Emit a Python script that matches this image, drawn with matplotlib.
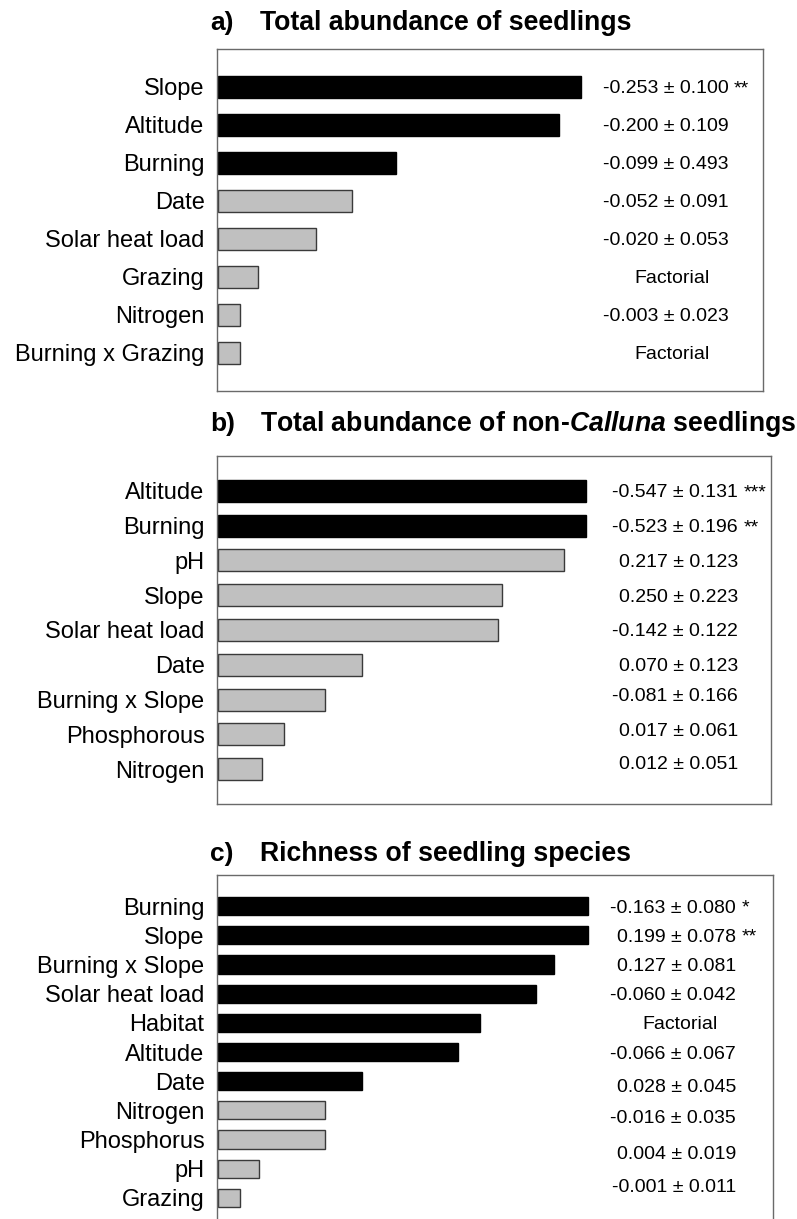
import matplotlib
matplotlib.use("Agg")
import matplotlib.pyplot as plt

plt.rcParams['font.family'] = ['Liberation Sans', 'DejaVu Sans']
plt.rcParams['mathtext.fontset'] = 'custom'
plt.rcParams['mathtext.rm'] = 'Liberation Sans:bold'
plt.rcParams['mathtext.it'] = 'Liberation Sans:italic:bold'
plt.rcParams['mathtext.bf'] = 'Liberation Sans:bold'

# ---------------- data ----------------
a_labels = ["Slope", "Altitude", "Burning", "Date", "Solar heat load", "Grazing",
            "Nitrogen", "Burning x Grazing"]
a_importance = [1.00, 0.94, 0.49, 0.37, 0.27, 0.11, 0.06, 0.06]
a_estimates = ["-0.253 ± 0.100", "-0.200 ± 0.109", "-0.099 ± 0.493", "-0.052 ± 0.091",
               "-0.020 ± 0.053", "Factorial", "-0.003 ± 0.023", "Factorial"]
a_stars = ["**", "", "", "", "", "", "", ""]
a_important = [True, True, True, False, False, False, False, False]

b_labels = ["Altitude", "Burning", "pH", "Slope", "Solar heat load", "Date",
            "Burning x Slope", "Phosphorous", "Nitrogen"]
b_importance = [1.00, 1.00, 0.94, 0.77, 0.76, 0.39, 0.29, 0.18, 0.12]
b_estimates = ["-0.547 ± 0.131", "-0.523 ± 0.196", "0.217 ± 0.123", "0.250 ± 0.223",
               "-0.142 ± 0.122", "0.070 ± 0.123", "-0.081 ± 0.166", "0.017 ± 0.061",
               "0.012 ± 0.051"]
b_stars = ["***", "**", "", "", "", "", "", "", ""]
b_important = [True, True, False, False, False, False, False, False, False]

c_labels = ["Burning", "Slope", "Burning x Slope", "Solar heat load", "Habitat",
            "Altitude", "Date", "Nitrogen", "Phosphorus", "pH", "Grazing"]
c_importance = [1.00, 1.00, 0.91, 0.86, 0.71, 0.65, 0.39, 0.29, 0.29, 0.11, 0.06]
c_estimates = ["-0.163 ± 0.080", "0.199 ± 0.078", "0.127 ± 0.081", "-0.060 ± 0.042",
               "Factorial", "-0.066 ± 0.067", "0.028 ± 0.045", "-0.016 ± 0.035",
               "0.004 ± 0.019", "-0.001 ± 0.011"]
c_stars = ["*", "**", "", "", "", "", "", "", "", ""]
c_important = [True, True, True, True, True, True, True, False, False, False, False]

# ---------------- layout (pixels) ----------------
W, H = 797, 1219
fig = plt.figure(figsize=(W / 100, H / 100), dpi=100)


def rect(l, r, t, b):
    return [l / W, 1 - b / H, (r - l) / W, (b - t) / H]


panels = [
    dict(labels=a_labels, imp=a_importance, est=a_estimates, stars=a_stars,
         sig=a_important, rect=rect(217, 763, 49, 391), ylim=(8, -1), h=0.6,
         title_y=23, title="Total abundance of seedlings", letter="a)",
         est_offset=[0] * 8, num_x=1.41, fac_x=1.255),
    dict(labels=b_labels, imp=b_importance, est=b_estimates, stars=b_stars,
         sig=b_important, rect=rect(217, 771, 456, 804), ylim=(9, -1), h=0.63,
         title_y=424, title=r"Total abundance of non-$\mathit{Calluna}$ seedlings",
         letter="b)", est_offset=[0, 0, 0, 0, 0, 0, -0.15, -0.15, -0.2],
         num_x=1.415, fac_x=1.25),
    dict(labels=c_labels, imp=c_importance, est=c_estimates, stars=c_stars,
         sig=c_important, rect=rect(217, 773, 875, 1227), ylim=(11, -1.07), h=0.62,
         title_y=854, title="Richness of seedling species", letter="c)",
         est_offset=[0, 0, 0, 0, 0, 0, 0.14, 0.2, 0.45, 0.58],
         num_x=1.405, fac_x=1.254),
]

for p in panels:
    ax = fig.add_axes(p["rect"])
    n = len(p["labels"])
    ypos = list(range(n))
    colors = ["black" if s else "#c0c0c0" for s in p["sig"]]
    edges = ["black" if s else "#3a3a3a" for s in p["sig"]]
    ax.barh(ypos, p["imp"], height=p["h"], color=colors, edgecolor=edges,
            linewidth=1.0, left=0.003)
    ax.set_xlim(0, 1.505)
    ax.set_ylim(*p["ylim"])
    ax.set_yticks(ypos)
    ax.set_yticklabels(p["labels"], fontsize=17)
    ax.tick_params(axis='y', length=0, pad=9)
    ax.set_xticks([])
    for sp in ax.spines.values():
        sp.set_color("#6a6a6a")
        sp.set_linewidth(1.0)
    for i, (txt, st) in enumerate(zip(p["est"], p["stars"])):
        yy = i + p["est_offset"][i]
        if txt == "Factorial":
            ax.text(p["fac_x"], yy, txt, ha="center", va="center_baseline",
                    fontsize=14)
        else:
            ax.text(p["num_x"], yy, txt, ha="right", va="center_baseline",
                    fontsize=14)
            if st:
                ax.annotate(st, xy=(p["num_x"], yy), xytext=(4, 0),
                            textcoords="offset points", ha="left",
                            va="center_baseline", fontsize=14)
    fig.text(210 / W, 1 - p["title_y"] / H, p["letter"], ha="left", va="center",
             fontsize=19, fontweight="bold")
    fig.text(260 / W, 1 - p["title_y"] / H, p["title"], ha="left", va="center",
             fontsize=19.2, fontweight="bold")

fig.savefig("out.png", dpi=100)
